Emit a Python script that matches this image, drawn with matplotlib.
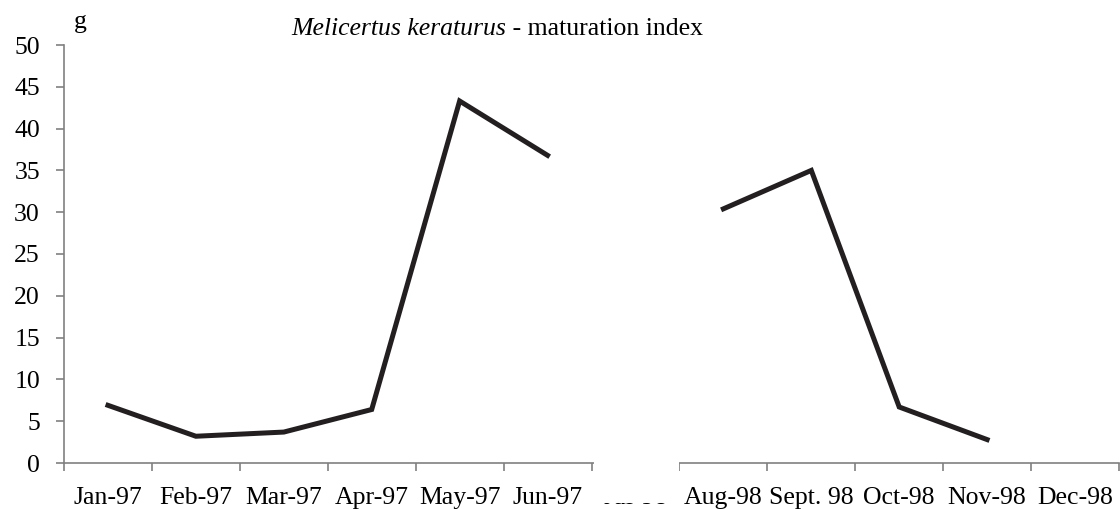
import numpy as np
import matplotlib
matplotlib.use("Agg")
import matplotlib.pyplot as plt
from matplotlib.patches import Rectangle

months = ["Jan-97", "Feb-97", "Mar-97", "Apr-97", "May-97", "Jun-97",
          "Jul-98", "Aug-98", "Sept. 98", "Oct-98", "Nov-98", "Dec-98"]
index_values = [6.9, 3.2, 3.7, 6.4, 43.3, 36.8,
                np.nan, 30.4, 35.0, 6.7, 2.8, np.nan]
y_ticks = [0, 5, 10, 15, 20, 25, 30, 35, 40, 45, 50]

plt.rcParams['font.family'] = ['Liberation Serif', 'DejaVu Serif']
W, H = 1120, 509
fig = plt.figure(figsize=(W / 100, H / 100), dpi=100)
ax = fig.add_axes([64 / W, 1 - 463 / H, (1119 - 64) / W, (463 - 45) / H])

x = np.arange(len(months)) + 0.5
ax.plot(x, index_values, color='#231f20', lw=3.6, solid_joinstyle='miter')

ax.set_xlim(0, len(months))
ax.set_ylim(0, 50)
ax.set_yticks(y_ticks)
ax.set_xticks(np.arange(len(months) + 1))
ax.set_xticklabels([])
ax.set_xticks(x, minor=True)
ax.set_xticklabels(months, minor=True)
ax.tick_params(axis='x', which='minor', length=0, pad=17, labelsize=18.5)
ax.tick_params(axis='x', which='major', length=5.5, color='#808080', width=1.2, direction='out')
ax.tick_params(axis='y', length=5.5, color='#808080', width=1.2, labelsize=18.5, pad=11.8)

for s in ['top', 'right']:
    ax.spines[s].set_visible(False)
for s in ['left', 'bottom']:
    ax.spines[s].set_color('#808080')
    ax.spines[s].set_linewidth(1.2)

# white box masking the Jul-98 slot on the axis
fig.patches.append(Rectangle((594 / W, 1 - 503 / H), (679 - 594) / W, (503 - 455) / H,
                             transform=fig.transFigure, facecolor='white',
                             edgecolor='none', zorder=10))

fig.text(80 / W, 1 - 22 / H, "g", fontsize=18.5, ha='center', va='center')
fig.text(506 / W, 1 - 29 / H, "Melicertus keraturus", fontsize=18.5,
         style='italic', ha='right', va='center')
fig.text(506 / W, 1 - 29 / H, " - maturation index", fontsize=18.5,
         ha='left', va='center')

fig.savefig("out.png", dpi=100)
